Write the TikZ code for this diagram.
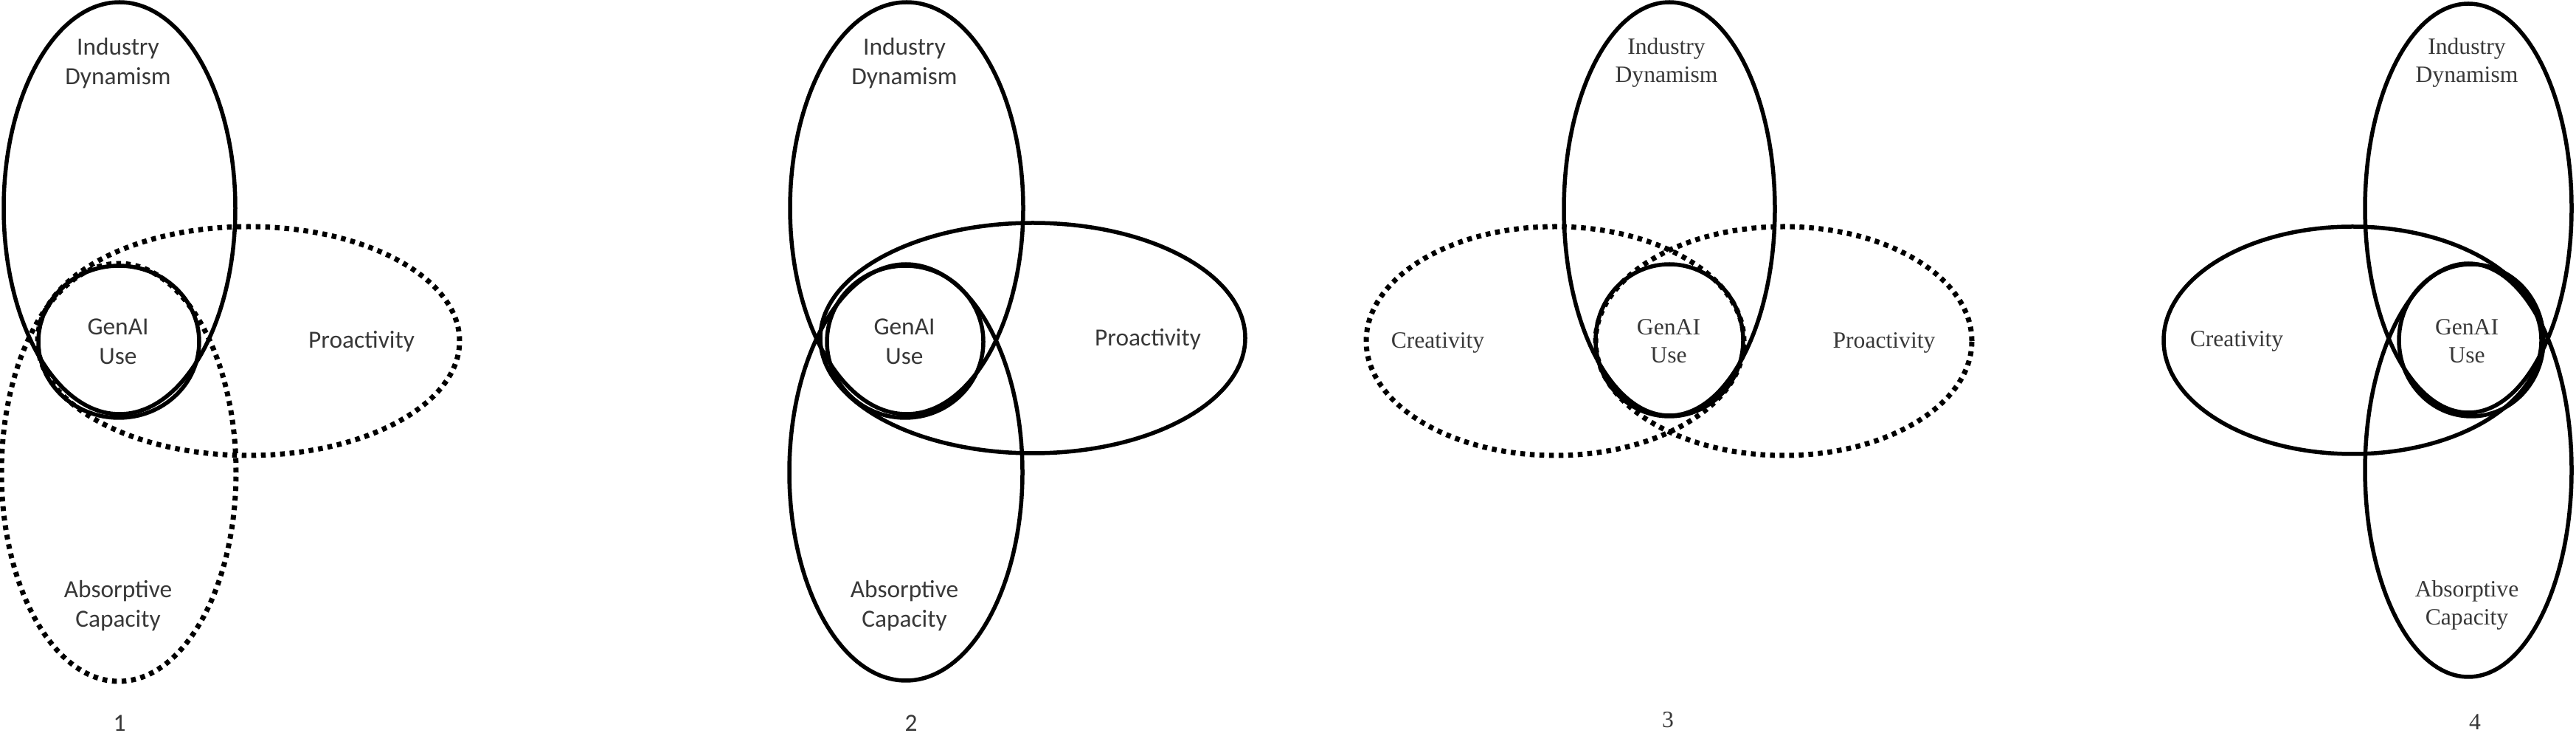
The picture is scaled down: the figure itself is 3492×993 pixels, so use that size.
\documentclass[tikz,border=0pt]{standalone}
\usepackage{fontspec}
\usepackage{tikz}
\newfontfamily\calfont{Carlito}
\newfontfamily\serfont{Liberation Serif}

\begin{document}
\begin{tikzpicture}[x=0.1mm, y=-0.1mm,
    solidset/.style={line width=0.55mm},
    dotset/.style={line width=0.7mm, dash pattern=on 0.65mm off 0.65mm},
    sanslabel/.style={align=center, text=black!78, font=\calfont\fontsize{9.5}{11.4}\selectfont},
    seriflabel/.style={align=center, text=black!78, font=\serfont\fontsize{9}{10.8}\selectfont}]
  \useasboundingbox (0,0) rectangle (3492,993);

  % panel 1
  \draw[solidset] (162,282) ellipse [x radius=15.7mm, y radius=27.9mm];
  \draw[dotset] (337,462) ellipse [x radius=28.6mm, y radius=15.5mm];
  \draw[dotset] (161,640) ellipse [x radius=15.9mm, y radius=28.3mm];
  \draw[solidset] (161,463) ellipse [x radius=10.9mm, y radius=10.3mm];
  \node[sanslabel](ind1) at (160,86) {Industry\\Dynamism};
  \node[sanslabel](gen1) at (160,463) {GenAI\\Use};
  \node[sanslabel](pro1) at (490,463) {Proactivity};
  \node[sanslabel](abs1) at (160,821) {Absorptive\\Capacity};
  \node[sanslabel](num1) at (162,980) {1};

  % panel 2
  \draw[solidset] (1229,282) ellipse [x radius=15.8mm, y radius=27.9mm];
  \draw[solidset] (1400,458) ellipse [x radius=28.8mm, y radius=15.6mm];
  \draw[solidset] (1228,640) ellipse [x radius=15.8mm, y radius=28.2mm];
  \draw[solidset] (1227,463) ellipse [x radius=10.6mm, y radius=10.3mm];
  \node[sanslabel](ind2) at (1226,86) {Industry\\Dynamism};
  \node[sanslabel](gen2) at (1226,463) {GenAI\\Use};
  \node[sanslabel](pro2) at (1556,460) {Proactivity};
  \node[sanslabel](abs2) at (1226,821) {Absorptive\\Capacity};
  \node[sanslabel](num2) at (1235,980) {2};

  % panel 3
  \draw[solidset] (2263,283) ellipse [x radius=14.3mm, y radius=28mm];
  \draw[dotset] (2108,462) ellipse [x radius=25.6mm, y radius=15.5mm];
  \draw[dotset] (2418,462) ellipse [x radius=25.5mm, y radius=15.5mm];
  \draw[solidset] (2263,461) ellipse [x radius=10mm, y radius=10.3mm];
  \node[seriflabel](ind3) at (2259,85) {Industry\\Dynamism};
  \node[seriflabel](cre3) at (1949,464) {Creativity};
  \node[seriflabel](gen3) at (2262,462) {GenAI\\Use};
  \node[seriflabel](pro3) at (2554,464) {Proactivity};
  \node[seriflabel](num3) at (2261,975) {3};

  % panel 4
  \draw[solidset] (3346,282) ellipse [x radius=14mm, y radius=27.7mm];
  \draw[solidset] (3346,637) ellipse [x radius=14mm, y radius=28mm];
  \draw[solidset] (3189,461) ellipse [x radius=25.6mm, y radius=15.4mm];
  \draw[solidset] (3350,461) ellipse [x radius=9.8mm, y radius=10.3mm];
  \node[seriflabel](ind4) at (3344,85) {Industry\\Dynamism};
  \node[seriflabel](cre4) at (3032,462) {Creativity};
  \node[seriflabel](gen4) at (3344,462) {GenAI\\Use};
  \node[seriflabel](abs4) at (3344,820) {Absorptive\\Capacity};
  \node[seriflabel](num4) at (3355,978) {4};
\end{tikzpicture}
\end{document}
